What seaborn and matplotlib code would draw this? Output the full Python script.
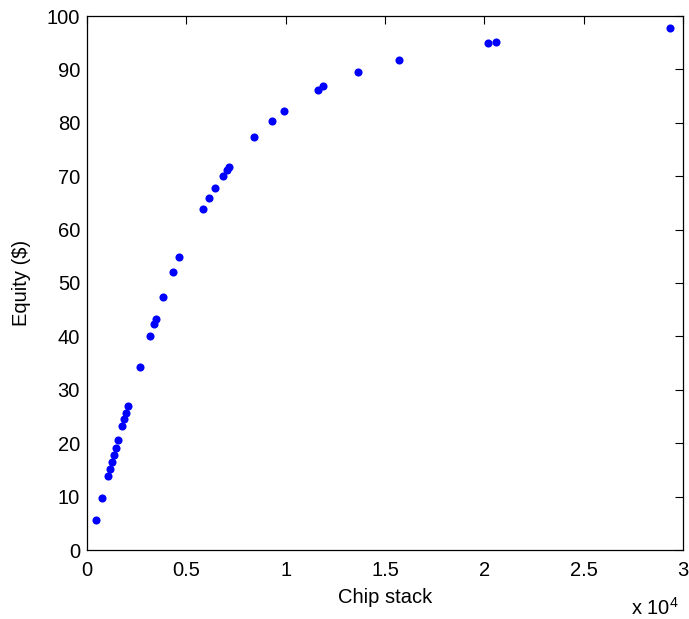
import matplotlib
matplotlib.use("Agg")
import matplotlib.pyplot as plt
import seaborn as sns
import pandas as pd
from matplotlib.ticker import FuncFormatter

chip_stack = [453, 756, 1073, 1174, 1275, 1375, 1461, 1562, 1763, 1849, 1965, 2065,
              2670, 3159, 3360, 3476, 3844, 4348, 4650, 5859, 6146, 6448, 6836, 7038,
              7154, 8413, 9320, 9924, 11637, 11904, 13617, 15718, 20186, 20605, 29370]
equity = [5.58, 9.78, 13.82, 15.21, 16.57, 17.88, 19.19, 20.51, 23.13, 24.44, 25.69, 27.0,
          34.36, 40.04, 42.23, 43.35, 47.42, 52.15, 54.83, 63.95, 65.88, 67.75, 70.0, 71.12,
          71.63, 77.25, 80.43, 82.17, 86.1, 86.85, 89.42, 91.76, 94.9, 95.09, 97.66]
x_ticks = [0, 5000, 10000, 15000, 20000, 25000, 30000]
y_ticks = [0, 10, 20, 30, 40, 50, 60, 70, 80, 90, 100]

sns.set_theme(style="white")
plt.rcParams['font.family'] = ['Liberation Sans', 'DejaVu Sans']
plt.rcParams['mathtext.fontset'] = 'custom'
plt.rcParams['mathtext.rm'] = 'Liberation Sans'
plt.rcParams['text.color'] = 'black'
plt.rcParams['axes.labelcolor'] = 'black'

df = pd.DataFrame({"Chip stack": chip_stack, "Equity": equity})

fig = plt.figure(figsize=(6.89, 6.19), dpi=100)
ax = fig.add_axes([87/689, 69/619, 596/689, 534/619])
sns.scatterplot(data=df, x="Chip stack", y="Equity", ax=ax, color=(0, 0, 1),
                s=34, linewidth=0, legend=False)

ax.set_xlim(0, 30000)
ax.set_ylim(0, 100)
ax.set_xticks(x_ticks)
ax.set_yticks(y_ticks)
ax.xaxis.set_major_formatter(FuncFormatter(lambda v, p: f"{v/1e4:g}"))
ax.tick_params(direction='in', length=6, width=0.8, top=True, right=True,
               labelsize=14.5, colors='black', pad=5)
ax.tick_params(axis='x', pad=8)
for s in ax.spines.values():
    s.set_visible(True)
    s.set_color('black')
    s.set_linewidth(0.9)
ax.set_xlabel("Chip stack", fontsize=14.5, labelpad=6)
ax.set_ylabel("Equity (\\$)", fontsize=14.5, labelpad=11)
ax.text(0.993, -0.088, "x 10$^4$", transform=ax.transAxes, ha='right', va='top', fontsize=14.5)

fig.savefig("out.png", dpi=100)
